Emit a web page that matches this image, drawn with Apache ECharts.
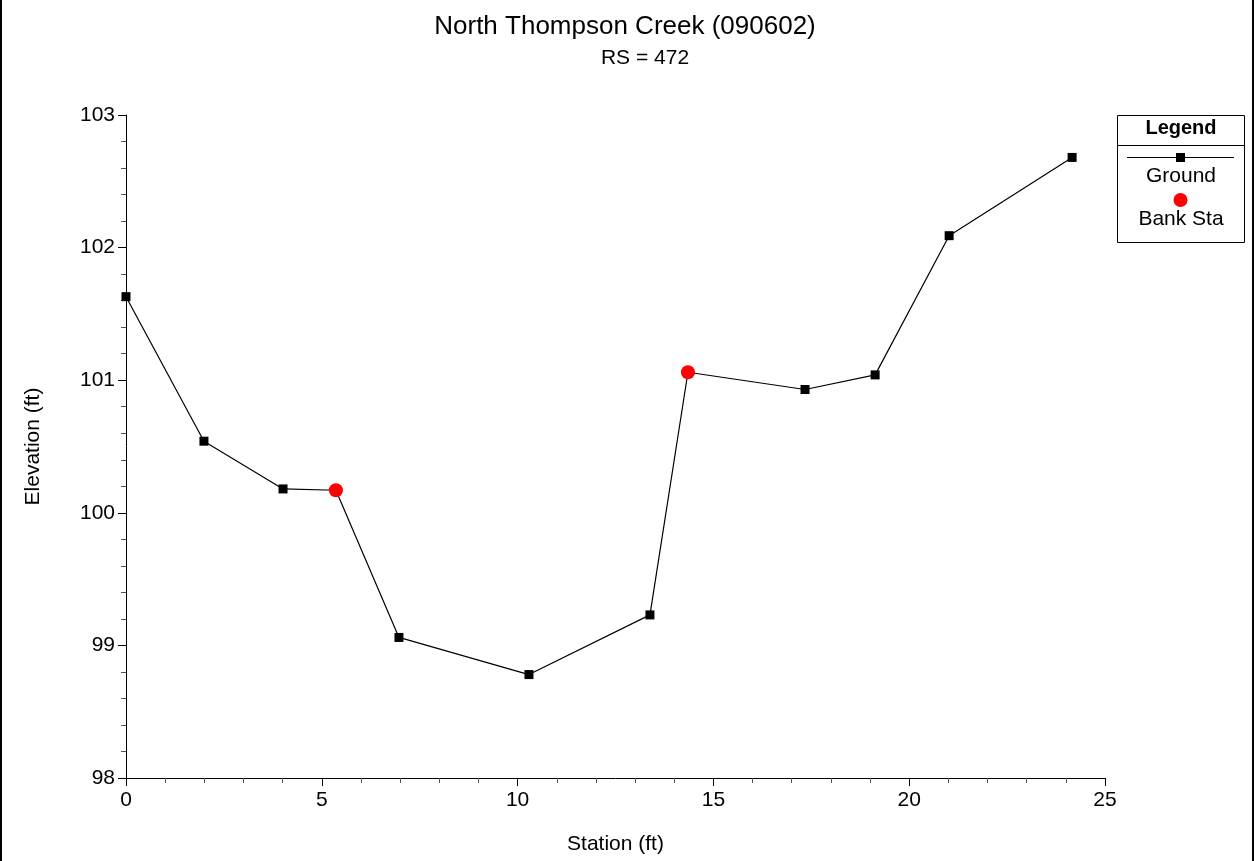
<!DOCTYPE html>
<html><head><meta charset="utf-8">
<script src="https://cdn.jsdelivr.net/npm/echarts@6/dist/echarts.min.js"></script>
<style>html,body{margin:0;padding:0;background:#fff}#c{width:1255px;height:861px}</style>
</head><body><div id="c"></div>
<script>
var groundStation = [0, 1.99, 4.01, 5.36, 6.97, 10.29, 13.38, 14.35, 17.34, 19.13, 21.02, 24.16];
var groundElev = [101.63, 100.54, 100.18, 100.17, 99.06, 98.78, 99.23, 101.06, 100.93, 101.04, 102.09, 102.68];
var bankStation = [5.36, 14.35];
var bankElev = [100.17, 101.06];
var titleText = 'North Thompson Creek (090602)';
var subText = 'RS = 472';
var xName = 'Station (ft)';
var yName = 'Elevation (ft)';
var legendTitle = 'Legend';
var legendNames = ['Ground', 'Bank Sta'];

var F = 'Liberation Sans, Arial, sans-serif';
var chart = echarts.init(document.getElementById('c'), null, {renderer: 'canvas'});
function pairs(xs, ys){ return xs.map(function(x,i){return [x, ys[i]];}); }
var groundData = groundStation.map(function(x, i){
  var item = {value: [x, groundElev[i]]};
  if (bankStation.indexOf(x) >= 0) item.symbolSize = 0;
  return item;
});
var axisCommon = {
  axisLine: {show: true, lineStyle: {color: '#000', width: 1}},
  axisTick: {show: true, length: 8, lineStyle: {color: '#000'}},
  minorTick: {show: true, splitNumber: 5, length: 5, lineStyle: {color: '#555'}},
  splitLine: {show: false},
  axisLabel: {color: '#000', fontFamily: F, fontSize: 21}
};
chart.setOption({
  animation: false,
  backgroundColor: '#fff',
  title: [
    {text: titleText, left: 620, top: 9, textAlign: 'center', textStyle: {fontFamily: F, fontSize: 26, fontWeight: 'normal', color: '#000'}},
    {text: subText, left: 640, top: 43, textAlign: 'center', textStyle: {fontFamily: F, fontSize: 21, fontWeight: 'normal', color: '#000'}}
  ],
  grid: {left: 126, right: 150, top: 115, bottom: 83},
  xAxis: Object.assign({}, axisCommon, {
    type: 'value', min: 0, max: 25, interval: 5,
    name: xName, nameLocation: 'middle', nameGap: 56,
    nameTextStyle: {fontFamily: F, fontSize: 21, color: '#000'},
    axisLabel: Object.assign({}, axisCommon.axisLabel, {margin: 12})
  }),
  yAxis: Object.assign({}, axisCommon, {
    type: 'value', min: 98, max: 103, interval: 1,
    name: yName, nameLocation: 'middle', nameGap: 82, nameRotate: 90,
    nameTextStyle: {fontFamily: F, fontSize: 21, color: '#000'},
    axisLabel: Object.assign({}, axisCommon.axisLabel, {margin: 11})
  }),
  series: [
    {name: legendNames[0], type: 'line', data: groundData,
     symbol: 'rect', symbolSize: 9, itemStyle: {color: '#000'}, lineStyle: {color: '#000', width: 1.2}, z: 2},
    {name: legendNames[1], type: 'scatter', data: pairs(bankStation, bankElev),
     symbol: 'circle', symbolSize: 14, itemStyle: {color: '#ff0000', opacity: 1}, z: 3}
  ],
  graphic: [
    {type: 'rect', shape: {x: 1, y: -5, width: 1252, height: 880}, style: {fill: 'none', stroke: '#000', lineWidth: 2}, silent: true},
    {type: 'rect', shape: {x: 1117.5, y: 115.5, width: 127, height: 127}, style: {fill: '#fff', stroke: '#000', lineWidth: 1}},
    {type: 'line', shape: {x1: 1117.5, y1: 145.5, x2: 1244.5, y2: 145.5}, style: {stroke: '#000', lineWidth: 1}},
    {type: 'text', x: 1181, y: 128, style: {text: legendTitle, fontFamily: F, fontSize: 20, fontWeight: 'bold', fill: '#000', align: 'center', verticalAlign: 'middle'}},
    {type: 'line', shape: {x1: 1127, y1: 157.5, x2: 1234, y2: 157.5}, style: {stroke: '#000', lineWidth: 1}},
    {type: 'rect', shape: {x: 1176, y: 153, width: 9, height: 9}, style: {fill: '#000'}},
    {type: 'text', x: 1181, y: 176, style: {text: legendNames[0], fontFamily: F, fontSize: 21, fill: '#000', align: 'center', verticalAlign: 'middle'}},
    {type: 'circle', shape: {cx: 1180.5, cy: 200, r: 7}, style: {fill: '#ff0000'}},
    {type: 'text', x: 1181, y: 219, style: {text: legendNames[1], fontFamily: F, fontSize: 21, fill: '#000', align: 'center', verticalAlign: 'middle'}}
  ]
});
</script>
</body></html>
